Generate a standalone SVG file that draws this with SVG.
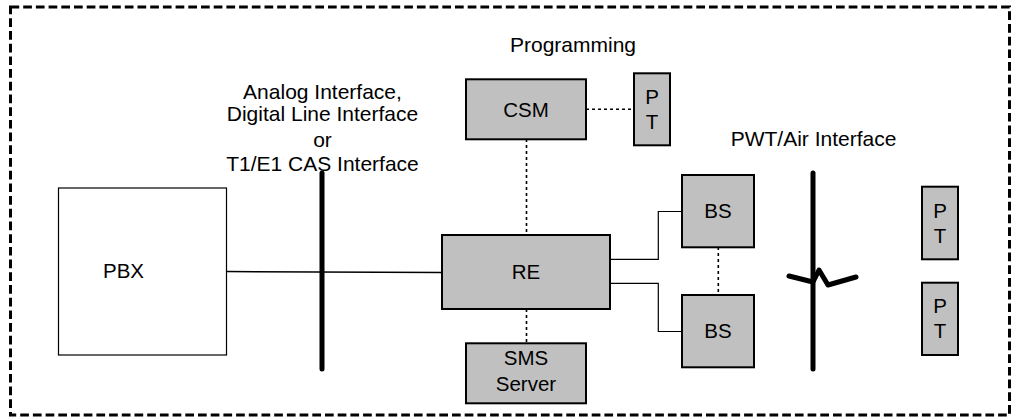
<svg xmlns="http://www.w3.org/2000/svg" width="1013" height="418" viewBox="0 0 1013 418">
<style>
text{font-family:"Liberation Sans",Arial,sans-serif;fill:#000}
.lbl{font-size:21px;text-anchor:middle}
.bx{font-size:20.5px;text-anchor:middle}
.box{fill:#c0c0c0;stroke:#000;stroke-width:2}
.dot{stroke:#000;stroke-width:1.6;stroke-dasharray:3 3;fill:none}
.thin{stroke:#000;stroke-width:1.2;fill:none}
.bar{stroke:#000;stroke-width:5;stroke-linecap:round;fill:none}
</style>
<rect x="10.5" y="7" width="999" height="408" fill="none" stroke="#000" stroke-width="3" stroke-dasharray="8.7 4"/>
<g id="labels">
<text class="lbl" x="322.5" y="99">Analog Interface,</text>
<text class="lbl" x="322.5" y="121">Digital Line Interface</text>
<text class="lbl" x="322.5" y="147">or</text>
<text class="lbl" x="322.5" y="171">T1/E1 CAS Interface</text>
<text class="lbl" x="573" y="52">Programming</text>
<text class="lbl" x="813.5" y="146">PWT/Air Interface</text>
</g>
<g id="connectors">
<line class="thin" x1="227" y1="271.5" x2="442" y2="272.5" style="stroke-width:1.5"/>
<line class="bar" x1="322" y1="173" x2="322" y2="369"/>
<line class="bar" x1="813" y1="173" x2="813" y2="369"/>
<path d="M789,276 L813,282 L819,270 L828,285 L856,277" fill="none" stroke="#000" stroke-width="5" stroke-linecap="round" stroke-linejoin="round"/>
<line class="dot" x1="586" y1="109.3" x2="634" y2="109.3"/>
<line class="dot" x1="526.5" y1="139" x2="526.5" y2="235"/>
<line class="dot" x1="526.5" y1="309" x2="526.5" y2="343"/>
<line class="dot" x1="718.3" y1="247" x2="718.3" y2="295"/>
<polyline class="thin" points="610,259.3 658.3,259.3 658.3,211.5 682,211.5"/>
<polyline class="thin" points="610,283.3 658.3,283.3 658.3,331.5 682,331.5"/>
</g>
<g id="pbx">
<rect x="58.5" y="188" width="168" height="167" fill="#fff" stroke="#000" stroke-width="1.2"/>
<text class="bx" x="103" y="278" style="text-anchor:start">PBX</text>
</g>
<g id="csm">
<rect class="box" x="466" y="79.3" width="120" height="60"/>
<text class="bx" x="526" y="116.5">CSM</text>
</g>
<g id="pt1">
<rect class="box" x="634" y="73.3" width="36" height="72"/>
<text class="bx" x="652" y="104">P</text>
<text class="bx" x="652" y="129">T</text>
</g>
<g id="re">
<rect class="box" x="442" y="235" width="168" height="74"/>
<text class="bx" x="526" y="279">RE</text>
</g>
<g id="sms">
<rect class="box" x="466" y="343.3" width="120" height="60"/>
<text class="bx" x="526" y="364.5">SMS</text>
<text class="bx" x="526" y="391">Server</text>
</g>
<g id="bs1">
<rect class="box" x="682" y="175" width="72" height="72.3"/>
<text class="bx" x="718" y="218.3">BS</text>
</g>
<g id="bs2">
<rect class="box" x="682" y="295" width="72" height="72.3"/>
<text class="bx" x="718" y="338.3">BS</text>
</g>
<g id="pt2">
<rect class="box" x="922" y="186.7" width="36" height="72.6"/>
<text class="bx" x="940" y="217.7">P</text>
<text class="bx" x="940" y="242.7">T</text>
</g>
<g id="pt3">
<rect class="box" x="922" y="282.7" width="36" height="72.3"/>
<text class="bx" x="940" y="312.7">P</text>
<text class="bx" x="940" y="338.3">T</text>
</g>
</svg>
